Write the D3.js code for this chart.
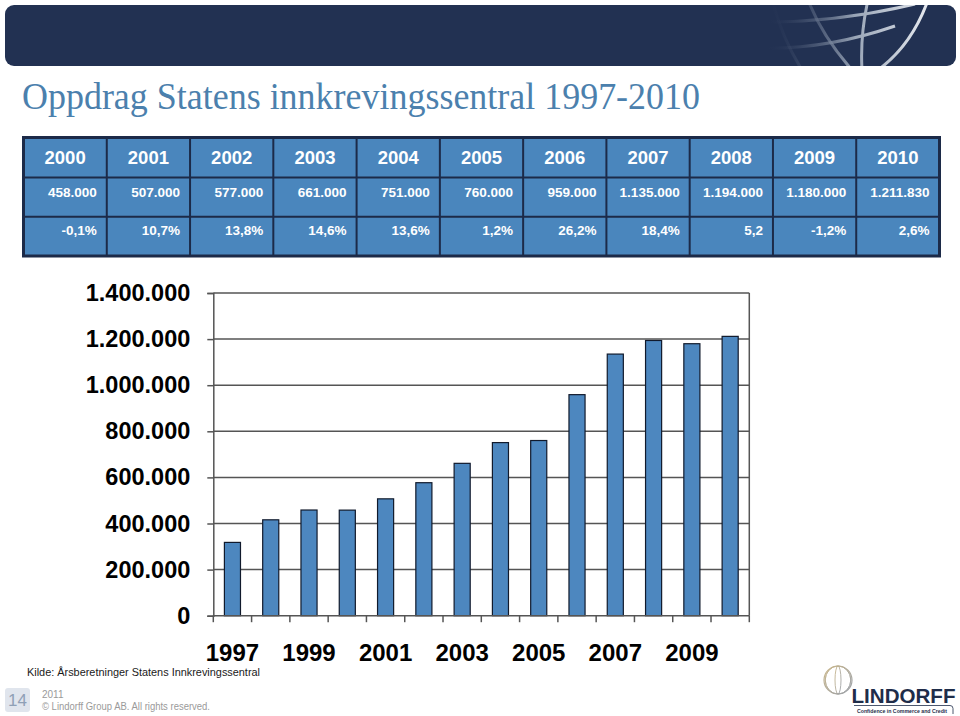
<!DOCTYPE html>
<html>
<head>
<meta charset="utf-8">
<script src="https://cdn.jsdelivr.net/npm/d3@7"></script>
<style>
  html, body { margin: 0; padding: 0; background: #ffffff; }
  svg { display: block; font-family: "Liberation Sans", Arial, sans-serif; }
</style>
</head>
<body>
<svg id="chart" width="960" height="716"></svg>
<script>
// ---- Data ----
const chartYears = [1997, 1998, 1999, 2000, 2001, 2002, 2003, 2004, 2005, 2006, 2007, 2008, 2009, 2010];
const chartValues = [318000, 416000, 458500, 458000, 507000, 577000, 661000, 751000, 760000, 959000, 1135000, 1194000, 1180000, 1211830];
const yTickValues = [0, 200000, 400000, 600000, 800000, 1000000, 1200000, 1400000];
const xLabelYears = [1997, 1999, 2001, 2003, 2005, 2007, 2009];

const tableYears = ["2000", "2001", "2002", "2003", "2004", "2005", "2006", "2007", "2008", "2009", "2010"];
const tableCounts = ["458.000", "507.000", "577.000", "661.000", "751.000", "760.000", "959.000", "1.135.000", "1.194.000", "1.180.000", "1.211.830"];
const tableGrowth = ["-0,1%", "10,7%", "13,8%", "14,6%", "13,6%", "1,2%", "26,2%", "18,4%", "5,2", "-1,2%", "2,6%"];

const titleText = "Oppdrag Statens innkrevingssentral 1997-2010";
const sourceText = "Kilde: Årsberetninger Statens Innkrevingssentral";

// ---- Setup ----
const svg = d3.select("#chart");
const defs = svg.append("defs");

// Header bar
defs.append("clipPath").attr("id", "hdrClip")
  .append("rect").attr("x", 5).attr("y", 5).attr("width", 951).attr("height", 61).attr("rx", 9);
const grad = defs.append("linearGradient").attr("id", "globeGrad")
  .attr("gradientUnits", "userSpaceOnUse").attr("x1", 765).attr("y1", 0).attr("x2", 930).attr("y2", 0);
grad.append("stop").attr("offset", "0%").attr("stop-color", "#223152").attr("stop-opacity", 0);
grad.append("stop").attr("offset", "55%").attr("stop-color", "#9aa6b8");
grad.append("stop").attr("offset", "100%").attr("stop-color", "#e8ebf0");

svg.append("rect").attr("x", 5).attr("y", 5).attr("width", 951).attr("height", 61).attr("rx", 9)
  .attr("fill", "#223152");
const globe = svg.append("g").attr("clip-path", "url(#hdrClip)")
  .attr("fill", "none").attr("stroke", "url(#globeGrad)").attr("stroke-width", 3);
["M772,0 Q782,38 802,70",
 "M808,0 Q822,36 852,70",
 "M868,0 Q860,35 862,70",
 "M928,0 Q912,45 878,70",
 "M760,48 Q825,50 895,26",
 "M765,22 Q840,22 915,4"].forEach(p => globe.append("path").attr("d", p));

// Title
svg.append("text")
  .attr("x", 22).attr("y", 109)
  .attr("font-family", "'Liberation Serif', 'Times New Roman', serif")
  .attr("font-size", 37)
  .attr("fill", "#4b80ad")
  .attr("textLength", 678).attr("lengthAdjust", "spacingAndGlyphs")
  .text(titleText);

// ---- Table ----
const tblX0 = 23.5, tblX1 = 939.5;
const rowEdges = [137.5, 177.5, 216.8, 256];
const colW = (tblX1 - tblX0) / tableYears.length;
const tbl = svg.append("g");
tbl.append("rect").attr("x", tblX0).attr("y", rowEdges[0])
  .attr("width", tblX1 - tblX0).attr("height", rowEdges[3] - rowEdges[0])
  .attr("fill", "#4a86bd");
for (let i = 1; i < tableYears.length; i++) {
  tbl.append("line").attr("x1", tblX0 + i * colW).attr("x2", tblX0 + i * colW)
    .attr("y1", rowEdges[0]).attr("y2", rowEdges[3])
    .attr("stroke", "#1c2a48").attr("stroke-width", 2);
}
[1, 2].forEach(r => {
  tbl.append("line").attr("x1", tblX0).attr("x2", tblX1)
    .attr("y1", rowEdges[r]).attr("y2", rowEdges[r])
    .attr("stroke", "#1c2a48").attr("stroke-width", 2);
});
tbl.append("rect").attr("x", tblX0).attr("y", rowEdges[0])
  .attr("width", tblX1 - tblX0).attr("height", rowEdges[3] - rowEdges[0])
  .attr("fill", "none").attr("stroke", "#1c2a48").attr("stroke-width", 3);

tbl.selectAll("text.hdr").data(tableYears).join("text")
  .attr("class", "hdr")
  .attr("x", (d, i) => tblX0 + (i + 0.5) * colW)
  .attr("y", 163.5)
  .attr("text-anchor", "middle")
  .attr("font-size", 18.5).attr("font-weight", "bold").attr("fill", "#ffffff")
  .text(d => d);
tbl.selectAll("text.cnt").data(tableCounts).join("text")
  .attr("class", "cnt")
  .attr("x", (d, i) => tblX0 + (i + 1) * colW - 10)
  .attr("y", 196.5)
  .attr("text-anchor", "end")
  .attr("font-size", 13.5).attr("font-weight", "bold").attr("fill", "#ffffff")
  .text(d => d);
tbl.selectAll("text.grw").data(tableGrowth).join("text")
  .attr("class", "grw")
  .attr("x", (d, i) => tblX0 + (i + 1) * colW - 10)
  .attr("y", 235)
  .attr("text-anchor", "end")
  .attr("font-size", 13.5).attr("font-weight", "bold").attr("fill", "#ffffff")
  .text(d => d);

// ---- Bar chart ----
const plotL = 213.3, plotR = 749.3, plotT = 293, plotB = 615.7;
const x = d3.scaleBand().domain(chartYears).range([plotL, plotR])
  .paddingInner(0.58).paddingOuter(0.29);
const y = d3.scaleLinear().domain([0, 1400000]).range([plotB, plotT]);
const locale = d3.formatLocale({ decimal: ",", thousands: ".", grouping: [3], currency: ["", " kr"] });
const fmt = locale.format(",d");

const plot = svg.append("g");

plot.selectAll("line.grid").data(yTickValues.filter(v => v > 0)).join("line")
  .attr("class", "grid")
  .attr("x1", plotL).attr("x2", plotR)
  .attr("y1", d => y(d)).attr("y2", d => y(d))
  .attr("stroke", "#555555").attr("stroke-width", 1.5);

plot.append("line").attr("x1", plotR).attr("x2", plotR).attr("y1", plotT).attr("y2", plotB)
  .attr("stroke", "#555555").attr("stroke-width", 1.5);

plot.selectAll("rect.bar").data(chartYears).join("rect")
  .attr("class", "bar")
  .attr("x", d => x(d))
  .attr("width", x.bandwidth())
  .attr("y", (d, i) => y(chartValues[i]))
  .attr("height", (d, i) => y(0) - y(chartValues[i]))
  .attr("fill", "#4d87bf")
  .attr("stroke", "#111a2c").attr("stroke-width", 1.2);

const yAxis = plot.append("g").attr("transform", `translate(${plotL},0)`)
  .call(d3.axisLeft(y).tickValues(yTickValues).tickFormat(fmt).tickSize(6).tickPadding(17));
yAxis.select(".domain").attr("stroke", "#555555").attr("stroke-width", 1.5);
yAxis.selectAll(".tick line").attr("stroke", "#555555").attr("stroke-width", 1.5);
yAxis.selectAll(".tick text")
  .attr("font-family", "'Liberation Sans', Arial, sans-serif")
  .attr("font-size", 23.5).attr("font-weight", "bold").attr("fill", "#000000");

const boundaries = chartYears.map(d => x(d) + x.bandwidth() / 2 - x.step() / 2)
  .concat([x(chartYears[chartYears.length - 1]) + x.bandwidth() / 2 + x.step() / 2]);
plot.append("line").attr("x1", plotL).attr("x2", plotR).attr("y1", y(0)).attr("y2", y(0))
  .attr("stroke", "#555555").attr("stroke-width", 1.5);
plot.selectAll("line.xtick").data(boundaries).join("line")
  .attr("class", "xtick")
  .attr("x1", d => d).attr("x2", d => d)
  .attr("y1", y(0)).attr("y2", y(0) + 6.5)
  .attr("stroke", "#555555").attr("stroke-width", 1.5);

const xAxis = plot.append("g").attr("transform", `translate(0,${plotB})`)
  .call(d3.axisBottom(x).tickValues(xLabelYears).tickSize(0).tickPadding(28));
xAxis.select(".domain").remove();
xAxis.selectAll(".tick text")
  .attr("font-family", "'Liberation Sans', Arial, sans-serif")
  .attr("font-size", 24).attr("font-weight", "bold").attr("fill", "#000000");

// ---- Footer ----
svg.append("text").attr("x", 27).attr("y", 675.5)
  .attr("font-size", 11).attr("fill", "#1a1a1a")
  .attr("textLength", 233).attr("lengthAdjust", "spacingAndGlyphs")
  .text(sourceText);

svg.append("rect").attr("x", 5).attr("y", 688).attr("width", 25).attr("height", 24).attr("rx", 3)
  .attr("fill", "#e0e5ed");
svg.append("text").attr("x", 17.5).attr("y", 706).attr("text-anchor", "middle")
  .attr("font-size", 17).attr("fill", "#8fa0b6").text("14");
svg.append("text").attr("x", 42).attr("y", 697.5)
  .attr("font-size", 10).attr("fill", "#9a9a9a").text("2011");
svg.append("text").attr("x", 42).attr("y", 709.5)
  .attr("font-size", 10).attr("fill", "#9a9a9a")
  .attr("textLength", 168).attr("lengthAdjust", "spacingAndGlyphs")
  .text("© Lindorff Group AB. All rights reserved.");

// ---- Logo ----
const logo = svg.append("g");
const lg = defs.append("linearGradient").attr("id", "logoGrad")
  .attr("x1", "0%").attr("y1", "0%").attr("x2", "100%").attr("y2", "100%");
lg.append("stop").attr("offset", "0%").attr("stop-color", "#c9b68a");
lg.append("stop").attr("offset", "100%").attr("stop-color", "#9aa0aa");
const gcx = 838, gcy = 680, gr = 14;
logo.append("circle").attr("cx", gcx).attr("cy", gcy).attr("r", gr)
  .attr("fill", "none").attr("stroke", "url(#logoGrad)").attr("stroke-width", 1.2);
[-0.5, 0, 0.5].forEach(k => {
  logo.append("ellipse").attr("cx", gcx).attr("cy", gcy)
    .attr("rx", Math.abs(k) * gr * 1.4 + 3).attr("ry", gr)
    .attr("fill", "none").attr("stroke", "url(#logoGrad)").attr("stroke-width", 0.9);
});
[-7, 0, 7].forEach(dy => {
  const half = Math.sqrt(gr * gr - dy * dy);
  logo.append("line").attr("x1", gcx - half).attr("x2", gcx + half)
    .attr("y1", gcy + dy).attr("y2", gcy + dy)
    .attr("stroke", "url(#logoGrad)").attr("stroke-width", 0.9);
});
logo.append("text").attr("x", 851.5).attr("y", 702.5)
  .attr("font-size", 20.5).attr("font-weight", "bold").attr("fill", "#1f2d4a")
  .attr("textLength", 104).attr("lengthAdjust", "spacingAndGlyphs")
  .text("LINDORFF");
logo.append("path").attr("d", "M854,705.5 H950 Q953,705.5 953,708.5 V714")
  .attr("fill", "none").attr("stroke", "#1f2d4a").attr("stroke-width", 0.8);
logo.append("text").attr("x", 857).attr("y", 712.5)
  .attr("font-size", 5.3).attr("font-weight", "bold").attr("fill", "#1f2d4a")
  .attr("textLength", 90).attr("lengthAdjust", "spacingAndGlyphs")
  .text("Confidence in Commerce and Credit");
</script>
</body>
</html>
